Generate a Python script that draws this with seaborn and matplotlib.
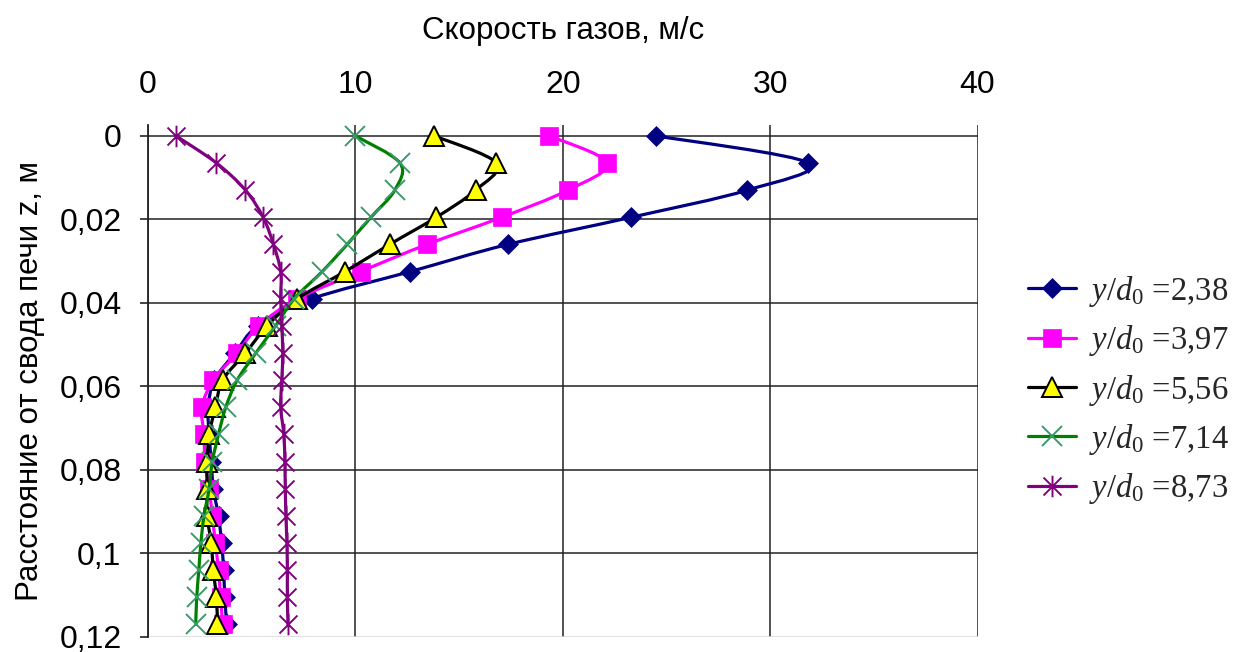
import numpy as np
import matplotlib
matplotlib.use("Agg")
import matplotlib.pyplot as plt
import seaborn as sns
from matplotlib.path import Path
from matplotlib.patches import PathPatch
from matplotlib.lines import Line2D

# Distance from the furnace roof, m
z_levels = [0, 0.0065, 0.013, 0.0195, 0.026, 0.0325, 0.039, 0.0455, 0.052, 0.0585,
            0.065, 0.0715, 0.078, 0.0845, 0.091, 0.0975, 0.104, 0.1105, 0.117]

# Gas velocity, m/s, for each relative distance y/d0
vel_238 = [24.5, 31.85, 28.9, 23.3, 17.35, 12.65, 7.9, 5.3, 4.2, 3.2,
           2.9, 2.95, 3.05, 3.15, 3.4, 3.55, 3.65, 3.7, 3.8]
vel_397 = [19.35, 22.15, 20.25, 17.05, 13.45, 10.25, 7.2, 5.35, 4.3, 3.15,
           2.6, 2.7, 2.75, 2.95, 3.1, 3.25, 3.4, 3.5, 3.6]
vel_556 = [13.8, 16.8, 15.8, 13.9, 11.65, 9.5, 7.2, 5.75, 4.7, 3.6,
           3.25, 2.95, 2.85, 2.85, 2.85, 3.05, 3.15, 3.3, 3.35]
vel_714 = [10.0, 12.15, 11.9, 10.75, 9.6, 8.4, 7.05, 6.15, 5.2, 4.3,
           3.75, 3.4, 3.1, 2.95, 2.7, 2.55, 2.45, 2.35, 2.3]
vel_873 = [1.35, 3.3, 4.7, 5.55, 6.05, 6.4, 6.4, 6.45, 6.5, 6.45,
           6.4, 6.55, 6.6, 6.62, 6.65, 6.7, 6.72, 6.72, 6.75]

ratio_labels = ["2,38", "3,97", "5,56", "7,14", "8,73"]
x_ticks = [0, 10, 20, 30, 40]
y_ticks = [0, 0.02, 0.04, 0.06, 0.08, 0.1, 0.12]
y_tick_labels = ["0", "0,02", "0,04", "0,06", "0,08", "0,1", "0,12"]

sns.set_theme(style="white")
plt.rcParams["font.family"] = ["Liberation Sans", "DejaVu Sans"]
plt.rcParams["mathtext.fontset"] = "custom"
plt.rcParams["mathtext.rm"] = "Liberation Serif"
plt.rcParams["mathtext.it"] = "Liberation Serif:italic"

# asterisk marker: an X crossed by a vertical stroke
asterisk = Path([(-1, -1), (1, 1), (-1, 1), (1, -1), (0, -1.2), (0, 1.2)],
                [Path.MOVETO, Path.LINETO, Path.MOVETO, Path.LINETO, Path.MOVETO, Path.LINETO])

styles = [
    dict(line="#000080", marker="D", ms=10.5, mfc="#000080", mec="#000080", mew=0.5),
    dict(line="#FF00FF", marker="s", ms=12.5, mfc="#FF00FF", mec="#FF00FF", mew=0.5),
    dict(line="#000000", marker="^", ms=14, mfc="#FFFF00", mec="#000000", mew=1.4),
    dict(line="#008000", marker="x", ms=14, mfc="none", mec="#3A9A6A", mew=1.4),
    dict(line="#800080", marker=asterisk, ms=15.5, mfc="none", mec="#800080", mew=1.4),
]
series = [vel_238, vel_397, vel_556, vel_714, vel_873]


def smooth_path(xs, ys):
    """Cubic Bezier path through the points (Catmull-Rom tangents)."""
    p = np.column_stack([xs, ys]).astype(float)
    n = len(p)
    verts, codes = [p[0]], [Path.MOVETO]
    for i in range(n - 1):
        p0 = p[i - 1] if i > 0 else p[i]
        p1, p2 = p[i], p[i + 1]
        p3 = p[i + 2] if i + 2 < n else p[i + 1]
        verts += [p1 + (p2 - p0) / 6, p2 - (p3 - p1) / 6, p2]
        codes += [Path.CURVE4] * 3
    return Path(verts, codes)


fig = plt.figure(figsize=(12.34, 6.52), dpi=100)
ax = fig.add_axes([148 / 1234, 1 - 637 / 652, (977.5 - 148) / 1234, (637 - 125) / 652])

handles = []
for k, (vals, st) in enumerate(zip(series, styles)):
    ax.add_patch(PathPatch(smooth_path(vals, z_levels), fill=False, ec=st["line"],
                           lw=2.3, zorder=2 + 2 * k, capstyle="round", joinstyle="round"))
    sns.lineplot(x=vals, y=z_levels, orient="y", sort=False, estimator=None, ax=ax,
                 linestyle="none", marker=st["marker"], markersize=st["ms"],
                 markerfacecolor=st["mfc"], markeredgecolor=st["mec"],
                 markeredgewidth=st["mew"], zorder=3 + 2 * k)
    handles.append(Line2D([], [], color=st["line"], lw=2.3, marker=st["marker"],
                          markersize=st["ms"], markerfacecolor=st["mfc"],
                          markeredgecolor=st["mec"], markeredgewidth=st["mew"]))

ax.set_xlim(0, 40)
ax.set_ylim(0.12, -0.0026)
ax.set_xticks(x_ticks)
ax.set_yticks(y_ticks)
ax.set_yticklabels(y_tick_labels)

ax.grid(True, color="#222222", lw=1.1)
ax.set_axisbelow(True)
ax.get_ygridlines()[-1].set_color("#d8d8d8")
for side in ("top", "right", "bottom"):
    ax.spines[side].set_visible(False)
ax.spines["left"].set_color("#222222")
ax.spines["left"].set_linewidth(1.3)

ax.xaxis.tick_top()
ax.xaxis.set_label_position("top")
ax.tick_params(axis="x", length=0, pad=18, labelsize=23, colors="black")
ax.tick_params(axis="y", left=True, length=6, width=1.2, pad=13, labelsize=23,
               color="#222222", labelcolor="black")

ax.set_xlabel("Скорость газов, м/с", fontsize=22.5, labelpad=22, color="black")
ax.set_ylabel("Расстояние от свода печи z, м", fontsize=22.5, labelpad=10, color="black")

labels = [rf"$y/d_0$ ={r}" for r in ratio_labels]
fig.legend(handles, labels, loc="center left", bbox_to_anchor=(1012 / 1234, 1 - 390 / 652),
           frameon=False, borderpad=0, handlelength=1.45, handletextpad=0.4,
           labelspacing=0.44, prop={"family": "Liberation Serif", "size": 23.5})

fig.savefig("out.png", dpi=100)
